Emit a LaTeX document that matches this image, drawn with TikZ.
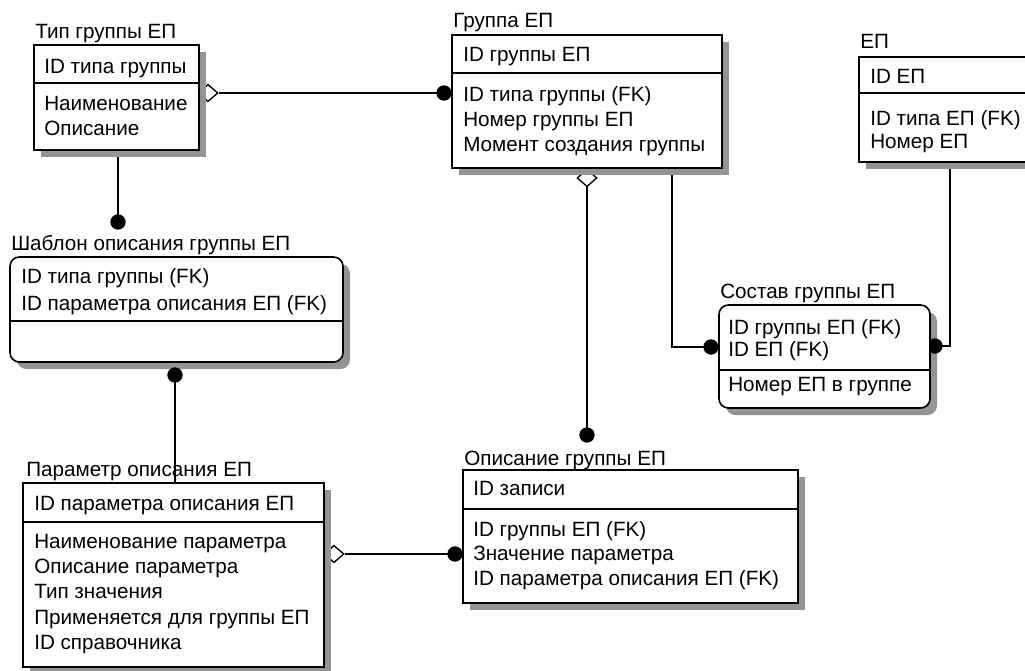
\documentclass[tikz,border=0pt]{standalone}
\usepackage{fontspec}
\setmainfont{Liberation Sans}
\usetikzlibrary{shapes.geometric,fit}
\pgfdeclarelayer{links}
\pgfdeclarelayer{shadows}
\pgfsetlayers{links,shadows,main}

\begin{document}
\begin{tikzpicture}[x=0.75pt,y=-0.75pt,
  ent/.style={draw=black,line width=1.2pt,fill=white},
  shade/.style={fill=black!42},
  link/.style={draw=black,line width=0.8pt},
  area/.style={inner sep=0pt,outer sep=0pt},
  dot/.style={circle,fill=black,inner sep=0pt,minimum size=11.5pt},
  rel/.style={diamond,draw=black,fill=white,line width=1pt,inner sep=0pt,
              minimum width=15pt,minimum height=13pt},
  lbl/.style={anchor=base west,inner sep=0pt,font=\fontsize{15.5}{18}\selectfont},
]
\useasboundingbox (0,0) rectangle (1025,671);
\clip (0,0) rectangle (1025,671);

% entity areas
\node[area,fit={(34,45) (199,150)}]   (tip)  {};
\node[area,fit={(452,35) (722,168)}]  (grp)  {};
\node[area,fit={(859,57) (1040,162)}] (ep)   {};
\node[area,fit={(10,257) (343,362)}]  (shab) {};
\node[area,fit={(719,305) (930,408)}] (sost) {};
\node[area,fit={(23,483) (324,667)}]  (par)  {};
\node[area,fit={(463,470) (798,603)}] (opis) {};

% relationship end dots
\node[dot] (d1) at (444,93)  {};
\node[dot] (d2) at (118,222) {};
\node[dot] (d3) at (175,375) {};
\node[dot] (d4) at (455,554) {};
\node[dot] (d5) at (587,435) {};
\node[dot] (d6) at (711,347) {};
\node[dot] (d7) at (935,346) {};

% shadows
\begin{pgfonlayer}{shadows}
  \foreach \e in {tip,grp,ep,par,opis}
    \fill[shade] ([shift={(7,7)}]\e.north west) rectangle ([shift={(7,7)}]\e.south east);
  \foreach \e in {shab,sost}
    \fill[shade,rounded corners=7pt] ([shift={(7,7)}]\e.north west) rectangle ([shift={(7,7)}]\e.south east);
\end{pgfonlayer}

% entity boxes with key/attribute dividers
\draw[ent] (tip.north west) rectangle (tip.south east);
\draw[ent] (34,83) -- (199,83);
\draw[ent] (grp.north west) rectangle (grp.south east);
\draw[ent] (452,73) -- (722,73);
\draw[ent] (ep.north west) rectangle (ep.south east);
\draw[ent] (859,93) -- (1040,93);
\draw[ent,rounded corners=7pt] (shab.north west) rectangle (shab.south east);
\draw[ent] (10,321) -- (343,321);
\draw[ent,rounded corners=7pt] (sost.north west) rectangle (sost.south east);
\draw[ent] (719,370) -- (930,370);
\draw[ent] (par.north west) rectangle (par.south east);
\draw[ent] (23,522) -- (324,522);
\draw[ent] (opis.north west) rectangle (opis.south east);
\draw[ent] (463,509) -- (798,509);

% relationships
\begin{pgfonlayer}{links}
  \node[rel] (m1) at (208,93)  {};
  \node[rel] (m2) at (587,178) {};
  \node[rel] (m3) at (334,554) {};
  \coordinate (g6) at (672,168);
  \coordinate (e7) at (950,162);
  \draw[link] (m1.east) -- (d1.center);
  \draw[link] (tip.south -| d2) -- (d2.center);
  \draw[link] (d3.center) -- (d3 |- par.north);
  \draw[link] (m3.east) -- (d4.center);
  \draw[link] (m2.south) -- (d5.center);
  \draw[link] (g6) |- (d6.center);
  \draw[link] (e7) |- (d7.center);
\end{pgfonlayer}

% entity names
\node[lbl] (t1) at (35,38.3)  {Тип группы ЕП};
\node[lbl] (t2) at (453,27)   {Группа ЕП};
\node[lbl] (t3) at (860,48.3) {ЕП};
\node[lbl] (t4) at (11,250)   {Шаблон описания группы ЕП};
\node[lbl] (t5) at (720,298.3){Состав группы ЕП};
\node[lbl] (t6) at (26,476.7) {Параметр описания ЕП};
\node[lbl] (t7) at (464,465)  {Описание группы ЕП};

% attributes
\node[lbl] (a11) at (44,73.3)  {ID типа группы};
\node[lbl] (a12) at (44,110)   {Наименование};
\node[lbl] (a13) at (44,135)   {Описание};

\node[lbl] (a21) at (463,61.7)  {ID группы ЕП};
\node[lbl] (a22) at (463,101.7) {ID типа группы (FK)};
\node[lbl] (a23) at (463,126.7) {Номер группы ЕП};
\node[lbl] (a24) at (463,151.7) {Момент создания группы};

\node[lbl] (a31) at (870,83.3)  {ID ЕП};
\node[lbl] (a32) at (870,125)   {ID типа ЕП (FK)};
\node[lbl] (a33) at (870,148.3) {Номер ЕП};

\node[lbl] (a41) at (21,283.3) {ID типа группы (FK)};
\node[lbl] (a42) at (21,310)   {ID параметра описания ЕП (FK)};

\node[lbl] (a51) at (728,334)   {ID группы ЕП (FK)};
\node[lbl] (a52) at (728,356)   {ID ЕП (FK)};
\node[lbl] (a53) at (728,391.7) {Номер ЕП в группе};

\node[lbl] (a61) at (34,510)   {ID параметра описания ЕП};
\node[lbl] (a62) at (34,548.3) {Наименование параметра};
\node[lbl] (a63) at (34,573.3) {Описание параметра};
\node[lbl] (a64) at (34,598.3) {Тип значения};
\node[lbl] (a65) at (34,624)   {Применяется для группы ЕП};
\node[lbl] (a66) at (34,649)   {ID справочника};

\node[lbl] (a71) at (473,495)   {ID записи};
\node[lbl] (a72) at (473,536.7) {ID группы ЕП (FK)};
\node[lbl] (a73) at (473,560)   {Значение параметра};
\node[lbl] (a74) at (473,585)   {ID параметра описания ЕП (FK)};
\end{tikzpicture}
\end{document}
